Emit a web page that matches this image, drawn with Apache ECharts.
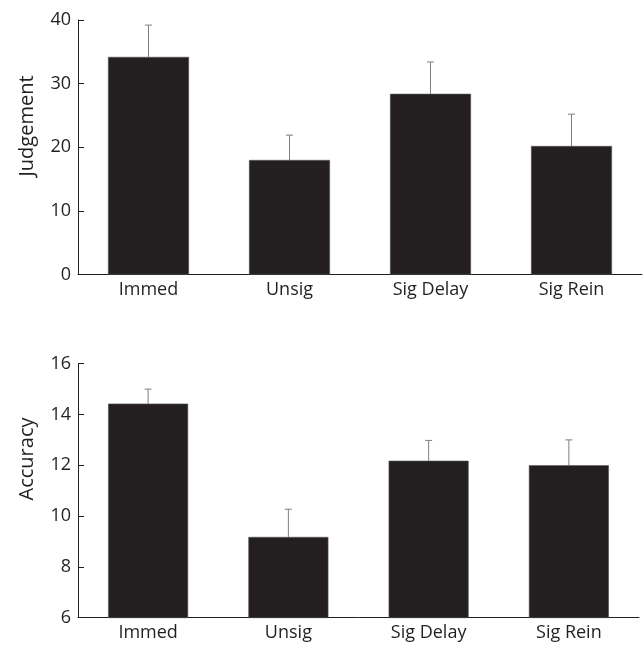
<!DOCTYPE html>
<html>
<head>
<meta charset="utf-8">
<script src="https://cdn.jsdelivr.net/npm/echarts@6/dist/echarts.min.js"></script>
<style>html,body{margin:0;padding:0;background:#fff}#c{width:643px;height:646px}</style>
</head>
<body>
<div id="c"></div>
<script>
var categories = ['Immed', 'Unsig', 'Sig Delay', 'Sig Rein'];
var judgementMeans = [34.2, 18.0, 28.4, 20.2];
var judgementErr = [5.0, 3.9, 5.0, 5.0];
var accuracyMeans = [14.43, 9.18, 12.18, 12.0];
var accuracyErr = [0.57, 1.09, 0.8, 1.0];
var judgementTicks = [0, 10, 20, 30, 40];
var accuracyTicks = [6, 8, 10, 12, 14, 16];

var FONT = 'Open Sans';
var TXT = '#231f20';
var BAR = '#231f20';

function errData(means, errs) {
  return means.map(function (m, i) { return [i, m, m + errs[i]]; });
}
function errRender(params, api) {
  var x = api.value(0);
  var lo = api.coord([x, api.value(1)]);
  var hi = api.coord([x, api.value(2)]);
  var style = { stroke: '#7f7f7f', lineWidth: 1 };
  return {
    type: 'group',
    children: [
      { type: 'line', shape: { x1: lo[0], y1: lo[1], x2: hi[0], y2: hi[1] }, style: style },
      { type: 'line', shape: { x1: hi[0] - 3.5, y1: hi[1], x2: hi[0] + 3.5, y2: hi[1] }, style: style }
    ]
  };
}

function yAxisCfg(ticks, gi) {
  return {
    type: 'value', gridIndex: gi,
    min: ticks[0], max: ticks[ticks.length - 1], interval: ticks[1] - ticks[0],
    axisLine: { show: true, lineStyle: { color: TXT, width: 1 } },
    axisTick: { show: true, inside: true, length: 6, lineStyle: { color: TXT } },
    axisLabel: { margin: 7, color: TXT, fontFamily: FONT, fontSize: 18 },
    splitLine: { show: false }
  };
}
function xAxisCfg(gi) {
  return {
    type: 'category', gridIndex: gi, data: categories,
    axisLine: { show: true, lineStyle: { color: TXT, width: 1 } },
    axisTick: { show: false },
    axisLabel: { margin: 6, color: TXT, fontFamily: FONT, fontSize: 18, interval: 0 }
  };
}

var chart = echarts.init(document.getElementById('c'), null, { renderer: 'canvas' });
chart.setOption({
  animation: false,
  backgroundColor: '#fff',
  grid: [
    { left: 78, right: 1, top: 20, height: 254.5 },
    { left: 78, right: 4, top: 363.7, height: 254 }
  ],
  xAxis: [xAxisCfg(0), xAxisCfg(1)],
  yAxis: [yAxisCfg(judgementTicks, 0), yAxisCfg(accuracyTicks, 1)],
  graphic: [
    { type: 'text', x: 27, y: 126, rotation: Math.PI / 2,
      style: { text: 'Judgement', fill: TXT, font: '20px "' + FONT + '"', textAlign: 'center', textVerticalAlign: 'middle' } },
    { type: 'text', x: 27, y: 459, rotation: Math.PI / 2,
      style: { text: 'Accuracy', fill: TXT, font: '20px "' + FONT + '"', textAlign: 'center', textVerticalAlign: 'middle' } }
  ],
  series: [
    { type: 'bar', xAxisIndex: 0, yAxisIndex: 0, data: judgementMeans, barWidth: 81,
      itemStyle: { color: BAR, borderColor: '#555', borderWidth: 0.6 } },
    { type: 'custom', xAxisIndex: 0, yAxisIndex: 0, data: errData(judgementMeans, judgementErr),
      renderItem: errRender, z: 1 },
    { type: 'bar', xAxisIndex: 1, yAxisIndex: 1, data: accuracyMeans, barWidth: 80,
      itemStyle: { color: BAR, borderColor: '#555', borderWidth: 0.6 } },
    { type: 'custom', xAxisIndex: 1, yAxisIndex: 1, data: errData(accuracyMeans, accuracyErr),
      renderItem: errRender, z: 1 }
  ]
});
</script>
</body>
</html>
